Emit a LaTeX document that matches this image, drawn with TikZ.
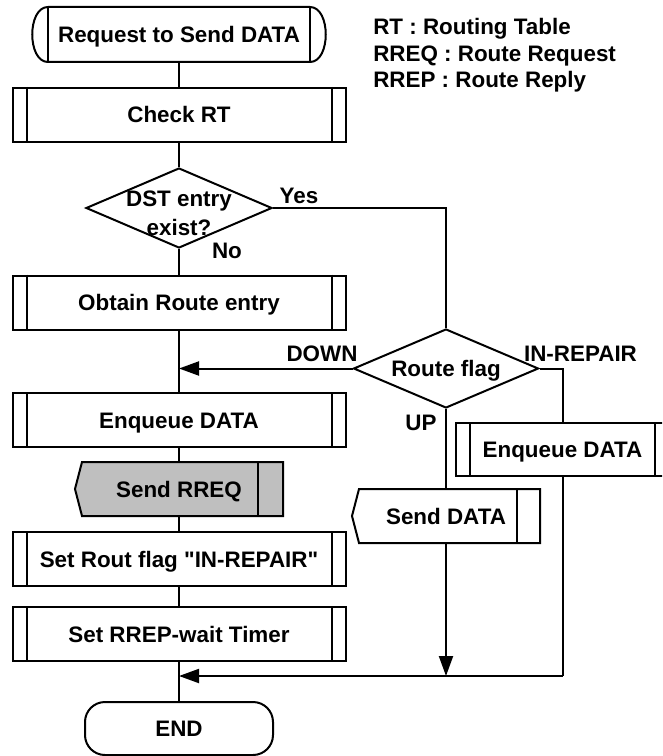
\documentclass[tikz,border=0pt]{standalone}
\usepackage{fontspec}
\setmainfont{Liberation Sans}
\usetikzlibrary{arrows.meta,shapes.geometric}
\begin{document}
\begin{tikzpicture}[x=0.75pt,y=-0.75pt,
  every node/.style={font=\fontsize{16.8}{20}\selectfont\bfseries, inner sep=0pt},
  lw/.style={line width=1.5pt},
  boxtext/.style={text height=12pt, text depth=0pt},
  subproc/.style={boxtext, rectangle, draw, lw, minimum width=249.75pt, minimum height=40.5pt},
  decision/.style={diamond, draw, lw, inner sep=0pt},
  frame/.style={rectangle, outer sep=0pt, minimum height=40.5pt},
  flow/.style={lw},
  arrow/.style={lw, -{Triangle[length=15pt,width=10.5pt]}},
  tag/.style={boxtext}
]
\clip (0,0) rectangle (662,756);

% legend
\node[anchor=base west] (lg1) at (373,35) {RT : Routing Table};
\node[anchor=base west] (lg2) at (373,62) {RREQ : Route Request};
\node[anchor=base west] (lg3) at (373,88) {RREP : Route Reply};

% start terminal with inner bars
\node[boxtext, rectangle, outer sep=0pt, minimum width=196.5pt, minimum height=41.25pt] (start) at (179,34.5) {Request to Send DATA};
\draw[lw] (start.north west) -- (start.north east)
  .. controls +(21,0) and +(21,0) .. (start.south east)
  -- (start.south west)
  .. controls +(-21,0) and +(-21,0) .. (start.north west) -- cycle;
\draw[lw] (start.north west) -- (start.south west);
\draw[lw] (start.north east) -- (start.south east);

% main column
\node[subproc] (chk) at (179,115) {Check RT};
\node[decision, minimum width=139.5pt, minimum height=60pt] (d1) at (179,208) {};
\node[anchor=base] (d1a) at (179,206) {DST entry};
\node[anchor=base] (d1b) at (179,235) {exist?};
\node[subproc] (obt) at (179,302.5) {Obtain Route entry};
\node[subproc] (enq) at (179,420) {Enqueue DATA};

% send RREQ (shaded output symbol)
\node[frame, minimum width=150.75pt] (rreq) at (182.5,489) {};
\draw[lw, fill=gray!50] (rreq.north west) -- (rreq.north east) -- (rreq.south east)
  -- (rreq.south west) -- ([xshift=-5.25pt]rreq.west) -- cycle;
\draw[lw] ([xshift=-18.75pt]rreq.north east) -- ([xshift=-18.75pt]rreq.south east);
\node[boxtext] (rreqt) at (179,489) {Send RREQ};

\node[subproc] (rout) at (179,559) {Set Rout flag \textquotedbl IN-REPAIR\textquotedbl};
\node[subproc] (tmr) at (179,634) {Set RREP-wait Timer};
\node[boxtext, rectangle, draw, lw, rounded corners=15pt, minimum width=141pt, minimum height=39.75pt] (end) at (179,728.5) {END};

% right branch
\node[decision, minimum width=138.75pt, minimum height=59.25pt] (rf) at (446,368.5) {};
\node[boxtext] (rft) at (446,368.5) {Route flag};
\node[subproc, minimum width=159.75pt, minimum height=39.75pt] (enq2) at (562.5,449.5) {Enqueue DATA};

% side bars of the predefined-process boxes
\foreach \b in {chk,obt,enq,rout,tmr,enq2}{
  \draw[lw] ([xshift=11.25pt]\b.north west) -- ([xshift=11.25pt]\b.south west);
  \draw[lw] ([xshift=-11.25pt]\b.north east) -- ([xshift=-11.25pt]\b.south east);
}

\node[frame, minimum width=135.75pt] (sd) at (449.5,516) {};
\draw[lw, fill=white] (sd.north west) -- (sd.north east) -- (sd.south east)
  -- (sd.south west) -- ([xshift=-5.25pt]sd.west) -- cycle;
\draw[lw] ([xshift=-17.25pt]sd.north east) -- ([xshift=-17.25pt]sd.south east);
\node[boxtext] (sdt) at (446,516) {Send DATA};

% branch labels
\node[tag] (yes) at (299,195) {Yes};
\node[tag] (no) at (227,250) {No};
\node[tag] (down) at (322,353) {DOWN};
\node[tag] (rep) at (580.5,353) {IN-REPAIR};
\node[tag] (up) at (421,422) {UP};

% connectors
\coordinate (joinR) at (562.5,676);
\draw[flow] (start.south) -- (chk.north);
\draw[flow] (chk.south) -- (d1.north);
\draw[flow] (d1.south) -- (obt.north);
\draw[flow] (obt.south) -- (enq.north);
\draw[flow] (enq.south) -- (enq.south |- rreq.north);
\draw[flow] (enq.south |- rreq.south) -- (rout.north);
\draw[flow] (rout.south) -- (tmr.north);
\draw[flow] (tmr.south) -- (end.north);
\draw[flow] (d1.east) -| (rf.north);
\draw[arrow] (rf.west) -- (rf.west -| obt.south);
\draw[flow] (rf.east) -| (enq2.north);
\draw[flow] (rf.south) -- (sdt |- sd.north);
\draw[arrow] (sdt |- sd.south) -- (sdt |- joinR);
\draw[flow] (enq2.south) -- (joinR);
\draw[arrow] (joinR) -- (joinR -| tmr.south);
\end{tikzpicture}
\end{document}
